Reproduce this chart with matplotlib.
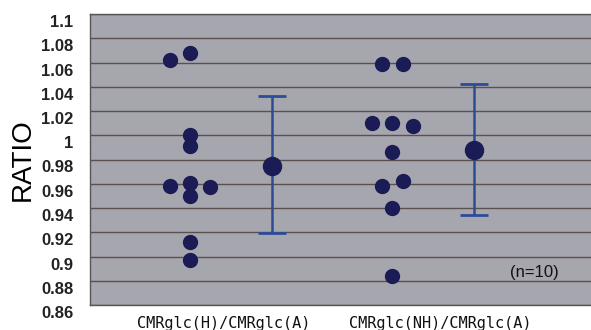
import matplotlib
matplotlib.use("Agg")
import matplotlib.pyplot as plt
import matplotlib.transforms as mtransforms
import numpy as np

# ---- data ----
categories = ["CMRglc(H)/CMRglc(A)", "CMRglc(NH)/CMRglc(A)"]
group_h = [1.062, 1.068, 1.000, 0.991, 0.958, 0.961, 0.957, 0.950, 0.912, 0.897]
group_nh = [1.059, 1.059, 1.010, 1.010, 1.008, 0.986, 0.958, 0.962, 0.940, 0.884]
jitter_h = [-0.10, 0.0, 0.0, 0.0, -0.10, 0.0, 0.10, 0.0, 0.0, 0.0]
jitter_nh = [-0.05, 0.055, -0.097, 0.0, 0.102, 0.0, -0.05, 0.055, 0.0, 0.0]
means = [0.975, 0.988]
err_low = [0.9196, 0.934]
err_high = [1.0326, 1.042]
yticks = [0.86, 0.88, 0.9, 0.92, 0.94, 0.96, 0.98, 1, 1.02, 1.04, 1.06, 1.08, 1.1]
ytick_labels = ["0.86", "0.88", "0.9", "0.92", "0.94", "0.96", "0.98", "1",
                "1.02", "1.04", "1.06", "1.08", "1.1"]
n_label = "(n=10)"

# ---- layout ----
W, H = 591, 330
fig = plt.figure(figsize=(W / 100, H / 100), dpi=100)
fig.patch.set_facecolor("white")
ax = fig.add_axes([90 / W, 25 / H, 501 / W, 291 / H])
ax.set_facecolor("#a6a6ae")

dot_color = "#1b1b55"
bar_color = "#2d4c98"

centers = [1.0, 2.0]
mean_x = [1.406, 2.406]

for c, vals, jit in [(centers[0], group_h, jitter_h), (centers[1], group_nh, jitter_nh)]:
    xs = [c + j for j in jit]
    ax.plot(xs, vals, "o", color=dot_color, markersize=10, zorder=3)

for mx, m, lo, hi in zip(mean_x, means, err_low, err_high):
    ax.errorbar([mx], [m], yerr=[[m - lo], [hi - m]], fmt="o", color=bar_color,
                ecolor=bar_color, elinewidth=1.8, capsize=10, capthick=2,
                markersize=13, markerfacecolor=dot_color, markeredgecolor=dot_color,
                zorder=4)

ax.set_xlim(0.505, 2.985)
ax.set_ylim(0.86, 1.1)
ax.set_yticks(yticks)
ax.set_yticklabels(ytick_labels, fontfamily="Liberation Sans", fontsize=12,
                   fontweight="bold", color="#222222")
ax.yaxis.grid(True, color="#5a5050", linewidth=1.0)
ax.set_axisbelow(True)
ax.tick_params(axis="y", length=0, pad=12)
ax.tick_params(axis="x", length=0, pad=8)

offset = mtransforms.ScaledTranslation(0, -7 / 100, fig.dpi_scale_trans)
for lbl in ax.get_yticklabels():
    lbl.set_transform(lbl.get_transform() + offset)

ax.set_xticks([1.168, 2.238])
ax.set_xticklabels(categories, fontfamily="DejaVu Sans Mono", fontsize=11,
                   color="#111111")

ax.set_ylabel("RATIO", fontfamily="Liberation Sans", fontsize=20)
ax.yaxis.set_label_coords(-54 / 501, 0.5)

ax.text(2.705, 0.8866, n_label, fontfamily="Liberation Sans", fontsize=12,
        ha="center", va="center", color="#111111")

for s in ["left", "bottom", "top"]:
    ax.spines[s].set_color("#555555")
    ax.spines[s].set_linewidth(1.0)
ax.spines["right"].set_visible(False)

fig.savefig("out.png", dpi=100, facecolor="white")
